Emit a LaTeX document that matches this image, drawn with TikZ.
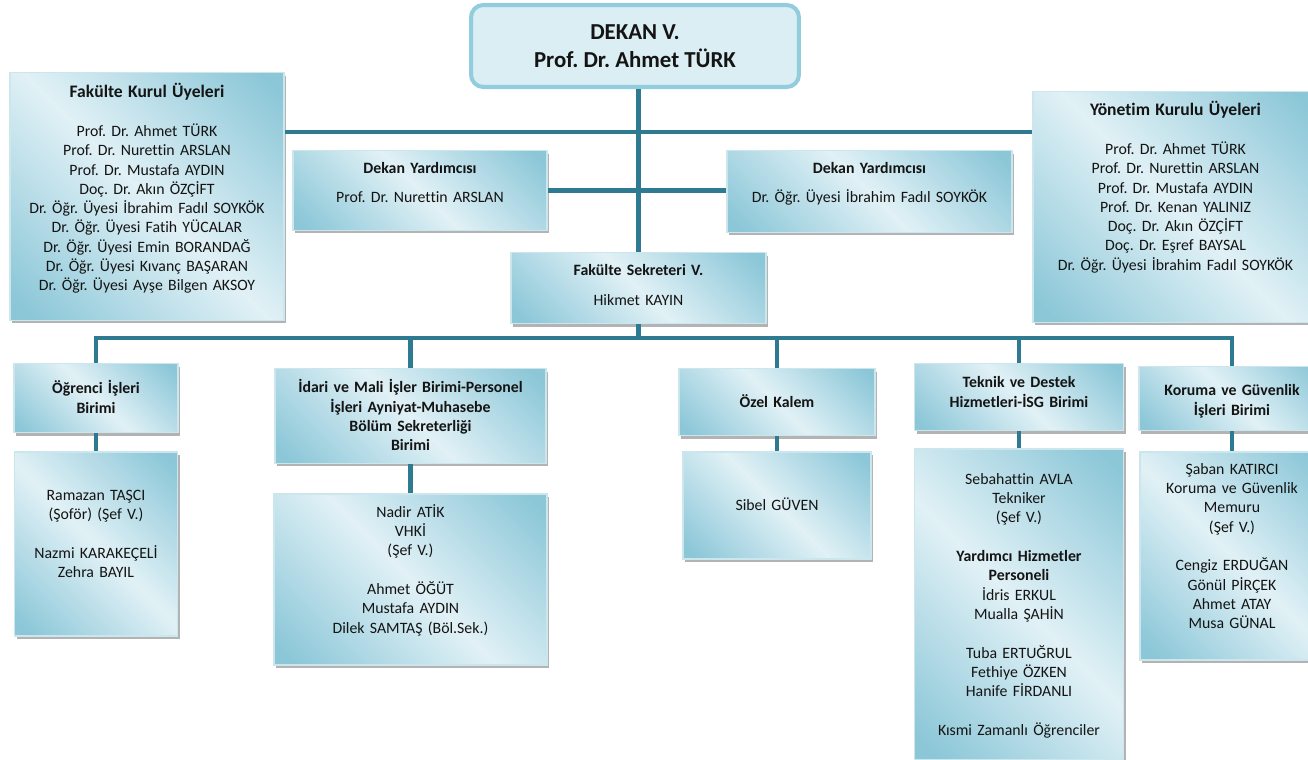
\documentclass[tikz,border=0pt]{standalone}
\usepackage{fontspec}
\setmainfont{Carlito}[Ligatures=NoCommon]
\frenchspacing
\usetikzlibrary{positioning,shadows}

\definecolor{linkteal}{HTML}{2E7A90}
\definecolor{boxdark}{HTML}{8CC7D8}
\definecolor{boxlight}{HTML}{E1F1F6}
\definecolor{deanfill}{HTML}{DAEEF3}
\definecolor{deanline}{HTML}{92CDDD}
\pgfdeclareverticalshading{unitshade}{100bp}{color(0bp)=(boxdark); color(18bp)=(boxdark); color(50bp)=(boxlight); color(82bp)=(boxdark); color(100bp)=(boxdark)}

\begin{document}
\begin{tikzpicture}[x=0.02cm,y=-0.02cm,
  link/.style={draw=linkteal,line width=2.6pt},
  unit/.style={anchor=north,shading=unitshade,shading angle=-45,draw=white!55!boxdark,line width=0.8pt,
    drop shadow={shadow xshift=1.2pt,shadow yshift=-1.6pt,fill=black!50,opacity=.6},
    align=center,inner xsep=0pt,inner ysep=0pt,text=black!92,font=\fontsize{9}{11}\selectfont},
  dean/.style={draw=deanline,line width=2.3pt,fill=deanfill,rounded corners=7pt,align=center,
    minimum width=6.56cm,minimum height=1.64cm,text=black!92,font=\bfseries\fontsize{13}{16}\selectfont}]

  \useasboundingbox (0,0) rectangle (1308,760);

  % top level
  \node[dean] (dekan) at (635,46) {DEKAN V.\\Prof. Dr. Ahmet TÜRK};

  \node[unit,text width=5.48cm,text height=0.5cm,text depth=4.46cm] (fakulte) at (147,72)
    {{\fontsize{10}{11}\selectfont\bfseries Fakülte Kurul Üyeleri}\\[11pt]
     Prof. Dr. Ahmet TÜRK\\ Prof. Dr. Nurettin ARSLAN\\ Prof. Dr. Mustafa AYDIN\\
     Doç. Dr. Akın ÖZÇİFT\\ Dr. Öğr. Üyesi İbrahim Fadıl SOYKÖK\\ Dr. Öğr. Üyesi Fatih YÜCALAR\\
     Dr. Öğr. Üyesi Emin BORANDAĞ\\ Dr. Öğr. Üyesi Kıvanç BAŞARAN\\ Dr. Öğr. Üyesi Ayşe Bilgen AKSOY};
  \node[unit,text width=5.7cm,text height=0.48cm,text depth=4.14cm] (yonetim) at (1175.5,91)
    {{\fontsize{10}{11}\selectfont\bfseries Yönetim Kurulu Üyeleri}\\[11pt]
     Prof. Dr. Ahmet TÜRK\\ Prof. Dr. Nurettin ARSLAN\\ Prof. Dr. Mustafa AYDIN\\
     Prof. Dr. Kenan YALINIZ\\ Doç. Dr. Akın ÖZÇİFT\\ Doç. Dr. Eşref BAYSAL\\
     Dr. Öğr. Üyesi İbrahim Fadıl SOYKÖK};

  \node[unit,text width=5.08cm,text height=0.46cm,text depth=1.14cm] (yard1) at (420,150)
    {\textbf{Dekan Yardımcısı}\\[5.5pt] Prof. Dr. Nurettin ARSLAN};
  \node[unit,text width=5.7cm,text height=0.46cm,text depth=1.18cm] (yard2) at (869.5,150)
    {\textbf{Dekan Yardımcısı}\\[5.5pt] Dr. Öğr. Üyesi İbrahim Fadıl SOYKÖK};
  \node[unit,text width=5.1cm,text height=0.46cm,text depth=0.96cm] (sekreter) at (638.5,252)
    {\textbf{Fakülte Sekreteri V.}\\[6pt] Hikmet KAYIN};

  % units
  \node[unit,text width=3.28cm,text height=0.6cm,text depth=0.78cm] (ogrenci) at (96,363)
    {\textbf{Öğrenci İşleri}\\ \textbf{Birimi}};
  \node[unit,text width=5.42cm,text height=0.48cm,text depth=1.42cm] (idari) at (410.5,368)
    {\bfseries İdari ve Mali İşler Birimi-Personel\\ İşleri Ayniyat-Muhasebe\\ Bölüm Sekreterliği\\ Birimi};
  \node[unit,text width=3.92cm,text height=0.78cm,text depth=0.56cm] (ozel) at (777,368)
    {\textbf{Özel Kalem}};
  \node[unit,text width=4.18cm,text height=0.48cm,text depth=0.86cm] (teknik) at (1019,363)
    {\bfseries Teknik ve Destek\\ Hizmetleri-İSG Birimi};
  \node[unit,text width=3.72cm,text height=0.58cm,text depth=0.7cm] (koruma) at (1232,366)
    {\bfseries Koruma ve Güvenlik\\ İşleri Birimi};

  % staff
  \node[unit,text width=3.26cm,text height=0.96cm,text depth=2.72cm] (ogrenciP) [below=0.36cm of ogrenci]
    {Ramazan TAŞCI\\ (Şoför) (Şef V.)\\[11pt] Nazmi KARAKEÇELİ\\ Zehra BAYIL};
  \node[unit,text width=5.46cm,text height=0.46cm,text depth=2.96cm] (idariP) [below=0.58cm of idari]
    {Nadir ATİK\\ VHKİ\\ (Şef V.)\\[11pt] Ahmet ÖĞÜT\\ Mustafa AYDIN\\ Dilek SAMTAŞ (Böl.Sek.)};
  \node[unit,text width=3.76cm,text height=1.16cm,text depth=0.98cm] (ozelP) [below=0.3cm of ozel]
    {Sibel GÜVEN};
  \node[unit,text width=4.18cm,text height=0.7cm,text depth=5.52cm] (teknikP) [below=0.34cm of teknik]
    {Sebahattin AVLA\\ Tekniker\\ (Şef V.)\\[11pt] \textbf{Yardımcı Hizmetler}\\ \textbf{Personeli}\\
     İdris ERKUL\\ Mualla ŞAHİN\\[11pt] Tuba ERTUĞRUL\\ Fethiye ÖZKEN\\ Hanife FİRDANLI\\[11pt]
     Kısmi Zamanlı Öğrenciler};
  \node[unit,text width=3.68cm,text height=0.44cm,text depth=3.72cm] (korumaP) [below=0.4cm of koruma]
    {Şaban KATIRCI\\ Koruma ve Güvenlik\\ Memuru\\ (Şef V.)\\[11pt] Cengiz ERDUĞAN\\ Gönül PİRÇEK\\
     Ahmet ATAY\\ Musa GÜNAL};

  \coordinate (kurul) at (638,132);
  \coordinate (bus) at (638,338);

  \draw[link] (dekan.south -| sekreter.north) -- (sekreter.north);
  \draw[link] (fakulte.east |- kurul) -- (yonetim.west |- kurul);
  \draw[link] (yard1.east) -- (yard1.east -| yard2.west);
  \draw[link] (sekreter.south) -- (sekreter.south |- bus);
  \draw[link] (ogrenci.north) |- (koruma.north |- bus) -- (koruma.north);
  \draw[link] (idari.north) -- (idari.north |- bus);
  \draw[link] (ozel.north) -- (ozel.north |- bus);
  \draw[link] (teknik.north) -- (teknik.north |- bus);
  \draw[link] (ogrenci.south) -- (ogrenciP.north);
  \draw[link] (idari.south) -- (idariP.north);
  \draw[link] (ozel.south) -- (ozelP.north);
  \draw[link] (teknik.south) -- (teknikP.north);
  \draw[link] (koruma.south) -- (korumaP.north);
\end{tikzpicture}
\end{document}
